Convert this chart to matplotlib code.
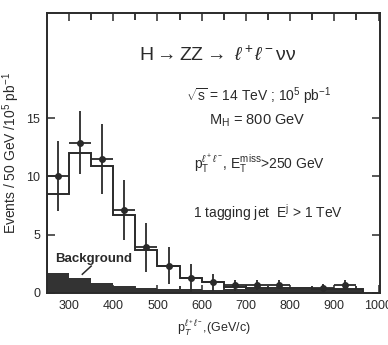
import numpy as np
import matplotlib
matplotlib.use('Agg')
import matplotlib.pyplot as plt

plt.rcParams['font.family'] = ['Liberation Sans', 'DejaVu Sans']
plt.rcParams['mathtext.fontset'] = 'custom'
plt.rcParams['mathtext.rm'] = 'Liberation Sans'
plt.rcParams['mathtext.it'] = 'Liberation Sans:italic'

# 50 GeV bins from 250 GeV
edges = [250, 300, 350, 400, 450, 500, 550, 600, 650, 700, 750, 800, 850, 900, 950, 965]
signal = [8.5, 12.0, 10.85, 6.7, 3.7, 2.3, 1.3, 0.9, 0.5, 0.45, 0.4, 0.38, 0.35, 0.35, 0.3]
background = [1.75, 1.3, 0.85, 0.6, 0.45, 0.3, 0.3, 0.28, 0.3, 0.3, 0.32, 0.3, 0.3, 0.35, 0.3]

# data points
pt_x = [275, 325, 375, 425, 475, 525, 575, 625, 675, 725, 775, 875, 925]
pt_y = [10.0, 12.9, 11.5, 7.1, 3.9, 2.35, 1.3, 0.9, 0.65, 0.68, 0.7, 0.45, 0.7]
pt_err = [3.0, 2.7, 3.0, 2.6, 2.1, 1.6, 1.2, 0.75, 0.45, 0.4, 0.4, 0.3, 0.4]

col = '#2a2a2a'

fig = plt.figure(figsize=(3.88, 3.45), dpi=100)
ax = fig.add_axes([0.121, 0.151, 0.858, 0.811])

ax.stairs(background, edges, fill=True, color='#333333', zorder=2)
ax.stairs(signal, edges, color=col, linewidth=1.4, zorder=3)
ax.errorbar(pt_x, pt_y, yerr=pt_err, xerr=25, fmt='o', color=col, ms=4,
            elinewidth=1.3, capsize=0, zorder=4)

ax.set_xlim(250, 1003)
ax.set_ylim(0, 24)
ax.set_xticks(range(300, 1001, 100))
ax.set_xticks(range(300, 1001, 50), minor=True)
ax.set_yticks([0, 5, 10, 15])
ax.tick_params(direction='in', top=True, right=True, length=6, width=1.1,
               labelsize=9, colors=col, pad=5)
ax.tick_params(which='minor', direction='in', top=True, bottom=True, length=5, width=1.1)
for s in ax.spines.values():
    s.set_linewidth(1.4)
    s.set_color(col)

ax.set_ylabel('Events / 50 GeV /10$^5$ pb$^{-1}$', fontsize=10, color=col, labelpad=3)
ax.set_xlabel(r'p$_T^{\ell^+\ell^-}$,(GeV/c)', fontsize=9, color=col, labelpad=5)

ax.text(636, 20.4, r'H$\rightarrow$ZZ$\rightarrow$ $\ell^+\ell^-$νν', fontsize=14,
        ha='center', va='center', color=col)
ax.text(730, 16.9, r'$\sqrt{\rm s}$ = 14 TeV ; 10$^5$ pb$^{-1}$', fontsize=10,
        ha='center', va='center', color=col)
ax.text(725, 14.8, r'M$_{\rm H}$ = 800 GeV', fontsize=10.5,
        ha='center', va='center', color=col)
ax.text(730, 11.1, r'p$_{\rm T}^{\ell^+\ell^-}$, E$_{\rm T}^{\rm miss}$>250 GeV', fontsize=10,
        ha='center', va='center', color=col)
ax.text(750, 6.9, r'1 tagging jet  E$^{\rm j}$ > 1 TeV', fontsize=10,
        ha='center', va='center', color=col)

ax.text(269, 2.9, 'Background', fontsize=9.5, fontweight='bold', color=col, va='center')
ax.plot([330, 350], [1.6, 2.3], color=col, linewidth=1.1)

fig.savefig('out.png', dpi=100)
